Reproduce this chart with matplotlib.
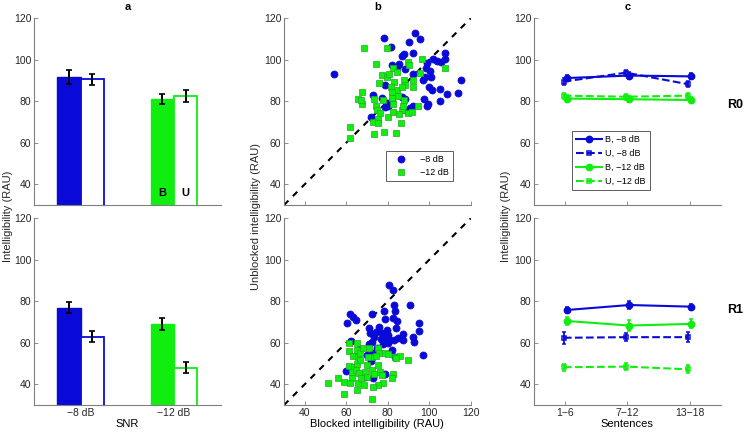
import matplotlib
matplotlib.use('Agg')
from matplotlib import pyplot as plt
import numpy as np

plt.rcParams['font.family'] = ['Liberation Sans', 'DejaVu Sans']
plt.rcParams['font.size'] = 7.5

# Colours
blue = '#0a0ad8'
green = '#10ee10'
green_edge = '#22aa22'
axis_grey = '#7f7f7f'

# Panel a: bar values (B = blocked, U = unblocked) per SNR
snr_labels = ['\u22128 dB', '\u221212 dB']
r0_blocked = [91.8, 81.2]
r0_blocked_err = [3.5, 2.4]
r0_unblocked = [90.5, 82.4]
r0_unblocked_err = [2.7, 2.8]
r1_blocked = [76.9, 69.1]
r1_blocked_err = [2.7, 2.9]
r1_unblocked = [63.0, 48.0]
r1_unblocked_err = [2.6, 2.6]

# Panel b: blocked vs unblocked scatter (R0 top)
r0_m8_x = [54.1, 78.4, 81.4, 93.2, 95.7, 90.1, 86.7, 87.9, 92.4, 85.4, 82.1, 88.5,
           92.4, 98.3, 98.8, 101.7, 103.6, 107.6, 107.6, 105.7, 97.8, 100.4, 100.9,
           97.2, 99.9, 101.2, 105.1, 115.2, 113.7, 108.8, 105.2, 97.5, 98.8, 99.3,
           90.8, 92.4, 89.1, 88.3, 86.9, 78.9, 71.8, 73.1, 77.1, 79.5, 80.3, 78.7,
           84.3, 81.9]
r0_m8_y = [93.3, 110.7, 106.3, 112.8, 109.9, 108.6, 101.8, 102.7, 103.4, 98.0, 97.5,
           95.4, 93.2, 95.9, 98.3, 100.4, 99.6, 103.4, 100.6, 99.1, 91.6, 94.8, 91.6,
           90.3, 87.1, 85.5, 86.1, 90.1, 84.2, 83.4, 80.3, 81.3, 77.8, 78.6, 77.0,
           77.8, 75.3, 81.0, 82.2, 87.7, 72.6, 83.0, 81.8, 79.0, 77.8, 77.4, 95.9, 80.3]
r0_m12_x = [68.6, 79.8, 74.4, 96.5, 89.8, 90.1, 82.7, 84.3, 77.1, 79.5, 80.8, 83.1,
            76.0, 87.8, 88.1, 92.0, 92.0, 84.6, 86.7, 81.6, 95.5, 107.6, 67.4, 65.5,
            67.7, 67.1, 73.5, 74.4, 74.7, 76.3, 75.5, 73.1, 75.2, 80.1, 77.9, 81.9,
            82.4, 82.7, 86.7, 87.8, 87.5, 85.6, 86.4, 89.8, 91.9, 94.8, 62.0, 62.0,
            73.5, 78.4, 84.0, 81.9, 85.1]
r0_m12_y = [105.5, 105.5, 97.8, 100.2, 99.0, 97.3, 95.9, 94.3, 92.7, 91.9, 93.2, 89.5,
            89.0, 90.3, 87.9, 90.3, 87.1, 85.5, 87.1, 86.7, 93.5, 96.2, 84.7, 81.3,
            78.6, 80.6, 81.0, 77.8, 75.8, 74.2, 71.3, 70.2, 69.7, 72.6, 80.8, 81.4,
            78.6, 75.0, 75.8, 80.6, 77.9, 73.7, 69.7, 74.2, 75.0, 77.8, 67.5, 62.5,
            64.0, 65.4, 64.9, 84.7, 82.6]

# Panel b: R1 bottom
r1_m8_x = [80.8, 82.4, 83.2, 83.7, 90.8, 78.4, 78.5, 82.7, 84.7, 83.9, 72.2, 61.8,
           63.4, 64.7, 60.4, 71.2, 76.0, 71.5, 74.4, 77.1, 79.5, 77.9, 80.3, 76.6,
           78.7, 80.0, 77.6, 83.0, 85.1, 87.5, 87.2, 92.0, 92.7, 95.3, 95.3, 96.9,
           81.9, 83.5, 72.3, 71.2, 62.1, 69.9, 73.1, 71.9, 69.1, 59.7, 78.7, 73.1,
           66.6, 74.7, 80.3, 73.6]
r1_m8_y = [87.9, 85.5, 78.2, 75.5, 78.2, 75.5, 71.5, 71.8, 70.7, 67.0, 73.9, 73.9,
           72.6, 71.0, 69.7, 67.3, 67.8, 64.6, 65.4, 64.6, 66.2, 63.3, 63.8, 61.8,
           60.9, 62.2, 59.4, 61.4, 62.2, 61.4, 64.3, 63.0, 60.6, 69.4, 65.7, 54.1,
           56.5, 53.3, 60.6, 59.4, 61.0, 54.1, 54.9, 51.4, 43.7, 46.6, 45.0, 42.9,
           56.9, 57.3, 60.1, 63.0]
r1_m12_x = [61.3, 61.3, 65.0, 65.0, 63.4, 65.8, 66.6, 68.2, 71.1, 75.5, 75.7, 72.6,
            74.4, 78.7, 83.5, 85.9, 89.8, 61.5, 63.8, 65.4, 66.6, 63.0, 64.7, 66.3,
            69.9, 69.1, 72.3, 73.4, 75.5, 76.3, 77.1, 77.6, 75.5, 73.1, 68.7, 65.8,
            62.6, 61.8, 65.0, 58.9, 56.2, 51.4, 59.1, 72.6, 82.4, 82.2, 83.9, 79.9,
            69.9, 67.0, 70.3]
r1_m12_y = [59.8, 56.2, 59.8, 56.5, 53.8, 53.3, 54.9, 57.3, 57.7, 57.3, 55.3, 53.3,
            53.8, 54.9, 53.3, 53.8, 51.7, 48.9, 48.5, 49.8, 51.7, 45.9, 47.1, 45.3,
            49.3, 46.1, 46.9, 45.0, 49.3, 46.1, 44.5, 40.5, 39.7, 38.6, 39.7, 40.5,
            42.9, 40.8, 37.3, 41.3, 42.9, 40.5, 35.3, 32.8, 45.0, 43.2, 52.8, 54.6,
            43.7, 42.9, 53.3]

# Panel c: intelligibility across sentence blocks (values, error)
sentence_labels = ['1\u22126', '7\u221212', '13\u221218']
c_r0 = {
    'B_m8': ([91.2, 92.4, 92.0], [1.5, 1.5, 1.5]),
    'U_m8': ([89.5, 93.8, 88.2], [1.5, 1.5, 1.5]),
    'B_m12': ([81.3, 81.0, 80.6], [1.5, 1.5, 1.5]),
    'U_m12': ([82.7, 82.2, 82.7], [1.5, 1.5, 1.5]),
}
c_r1 = {
    'B_m8': ([75.8, 78.2, 77.4], [1.5, 1.8, 1.5]),
    'U_m8': ([62.4, 62.7, 62.7], [2.8, 2.0, 2.3]),
    'B_m12': ([70.5, 68.3, 69.1], [2.0, 2.5, 2.2]),
    'U_m12': ([48.2, 48.5, 47.2], [1.8, 1.8, 2.0]),
}

fig = plt.figure(figsize=(7.44, 4.32), dpi=100)

W, H = 744, 432
lefts = [34, 284, 534]
ax_w = 186.7
tops = [18.3, 218.3]
ax_h = 186.7


def make_ax(col, row):
    x0 = lefts[col] / W
    y0 = 1 - (tops[row] + ax_h) / H
    ax = fig.add_axes([x0, y0, ax_w / W, ax_h / H])
    ax.spines['top'].set_visible(False)
    ax.spines['right'].set_visible(False)
    for s in ('left', 'bottom'):
        ax.spines[s].set_color(axis_grey)
        ax.spines[s].set_linewidth(0.8)
    ax.tick_params(direction='in', length=3, width=0.6, color=axis_grey,
                   labelcolor='#262626', labelsize=7.5, pad=2)
    ax.set_ylim(30, 120)
    ax.set_yticks([40, 60, 80, 100, 120])
    return ax


def style_a(ax, blocked, b_err, unblocked, u_err):
    xpos = np.arange(1, 3)
    for i, col in enumerate([blue, green]):
        ax.bar(xpos[i] - 0.125, blocked[i], width=0.25, color=col, edgecolor=col,
               linewidth=1.0, zorder=2)
        ax.bar(xpos[i] + 0.125, unblocked[i], width=0.25, color='white',
               edgecolor=col, linewidth=1.3, zorder=2)
    ax.errorbar(xpos - 0.125, blocked, yerr=b_err, fmt='none', ecolor='black',
                elinewidth=1.4, capsize=2, capthick=1.2, zorder=3)
    ax.errorbar(xpos + 0.125, unblocked, yerr=u_err, fmt='none', ecolor='black',
                elinewidth=1.4, capsize=2, capthick=1.2, zorder=3)
    ax.set_xlim(0.5, 2.5)
    ax.set_xticks(xpos)


# Panel a
ax_a0 = make_ax(0, 0)
style_a(ax_a0, r0_blocked, r0_blocked_err, r0_unblocked, r0_unblocked_err)
ax_a0.set_xticklabels([])
ax_a0.tick_params(axis='x', length=0)
ax_a0.text(2 - 0.125, 36, 'B', ha='center', va='center', fontweight='bold', fontsize=8)
ax_a0.text(2 + 0.125, 36, 'U', ha='center', va='center', fontweight='bold', fontsize=8)
ax_a0.set_title('a', fontweight='bold', fontsize=8, pad=6)

ax_a1 = make_ax(0, 1)
style_a(ax_a1, r1_blocked, r1_blocked_err, r1_unblocked, r1_unblocked_err)
ax_a1.set_xticklabels(snr_labels)
ax_a1.tick_params(axis='x', length=0)
ax_a1.set_xlabel('SNR', fontsize=8, labelpad=1)


# Panel b
def style_b(ax, xb, yb, xg, yg):
    ax.plot([30, 120], [30, 120], '--', color='black', linewidth=1.5, zorder=1,
            dashes=(3, 3))
    ax.scatter(xb, yb, s=26, color=blue, edgecolors=blue, linewidths=0.5,
               label='\u22128 dB', zorder=2)
    ax.scatter(xg, yg, s=19, marker='s', color=green, edgecolors=green_edge,
               linewidths=0.5, label='\u221212 dB', zorder=3)
    ax.set_xlim(30, 120)
    ax.set_xticks([40, 60, 80, 100, 120])


ax_b0 = make_ax(1, 0)
style_b(ax_b0, r0_m8_x, r0_m8_y, r0_m12_x, r0_m12_y)
ax_b0.set_xticklabels([])
ax_b0.set_title('b', fontweight='bold', fontsize=8, pad=6)
leg_b = ax_b0.legend(loc='lower left', bbox_to_anchor=(0.545, 0.13), fontsize=6.5,
                     frameon=True, fancybox=False, edgecolor='#333333',
                     handletextpad=0.9, borderpad=0.45, labelspacing=0.45,
                     handlelength=2.4, borderaxespad=0, scatterpoints=1)
leg_b.get_frame().set_linewidth(0.7)

ax_b1 = make_ax(1, 1)
style_b(ax_b1, r1_m8_x, r1_m8_y, r1_m12_x, r1_m12_y)
ax_b1.set_xlabel('Blocked intelligibility (RAU)', fontsize=8, labelpad=1)

# Panel c
xc = np.arange(1, 4)
c_styles = {
    'B_m8': dict(color=blue, ls='-', marker='o', mfc=blue, ms=4.5, off=0.03,
                 label='B, \u22128 dB'),
    'U_m8': dict(color=blue, ls='--', marker='s', mfc='none', ms=3.2, off=-0.02,
                 label='U, \u22128 dB'),
    'B_m12': dict(color=green, ls='-', marker='o', mfc=green, ms=4.5, off=0.03,
                  label='B, \u221212 dB'),
    'U_m12': dict(color=green, ls='--', marker='s', mfc='none', ms=3.2, off=-0.02,
                  label='U, \u221212 dB'),
}


def style_c(ax, data):
    for key in ['B_m8', 'U_m8', 'B_m12', 'U_m12']:
        vals, errs = data[key]
        st = c_styles[key]
        ax.errorbar(xc + st['off'], vals, yerr=errs, color=st['color'],
                    linestyle=st['ls'], marker=st['marker'], mfc=st['mfc'],
                    mec=st['color'], ms=st['ms'], linewidth=1.5, elinewidth=1.3,
                    capsize=1.5, mew=1.1, label=st['label'])
    ax.set_xlim(0.5, 3.5)
    ax.set_xticks(xc)


ax_c0 = make_ax(2, 0)
style_c(ax_c0, c_r0)
ax_c0.set_xticklabels([])
ax_c0.set_title('c', fontweight='bold', fontsize=8, pad=6)
handles, labels = ax_c0.get_legend_handles_labels()
handles = [h[0] for h in handles]
leg_c = ax_c0.legend(handles, labels, loc='lower left', bbox_to_anchor=(0.205, 0.08),
                     fontsize=6.5, frameon=True, fancybox=False, edgecolor='#333333',
                     handletextpad=0.4, borderpad=0.45, labelspacing=0.55,
                     handlelength=2.8, borderaxespad=0)
leg_c.get_frame().set_linewidth(0.7)

ax_c1 = make_ax(2, 1)
style_c(ax_c1, c_r1)
ax_c1.set_xticklabels(sentence_labels)
ax_c1.set_xlabel('Sentences', fontsize=8, labelpad=1)

# Row labels at right edge
fig.text(743 / W, 1 - 105 / H, 'R0', fontweight='bold', fontsize=9, va='center',
         ha='right')
fig.text(743 / W, 1 - 310 / H, 'R1', fontweight='bold', fontsize=9, va='center',
         ha='right')

# Shared y labels
fig.text(8 / W, 0.5, 'Intelligibility (RAU)', rotation=90, va='center', ha='center',
         fontsize=8, color='#262626')
fig.text(256 / W, 0.5, 'Unblocked intelligibility (RAU)', rotation=90, va='center',
         ha='center', fontsize=8, color='#262626')
fig.text(506 / W, 0.5, 'Intelligibility (RAU)', rotation=90, va='center',
         ha='center', fontsize=8, color='#262626')

fig.savefig('out.png', dpi=100)
